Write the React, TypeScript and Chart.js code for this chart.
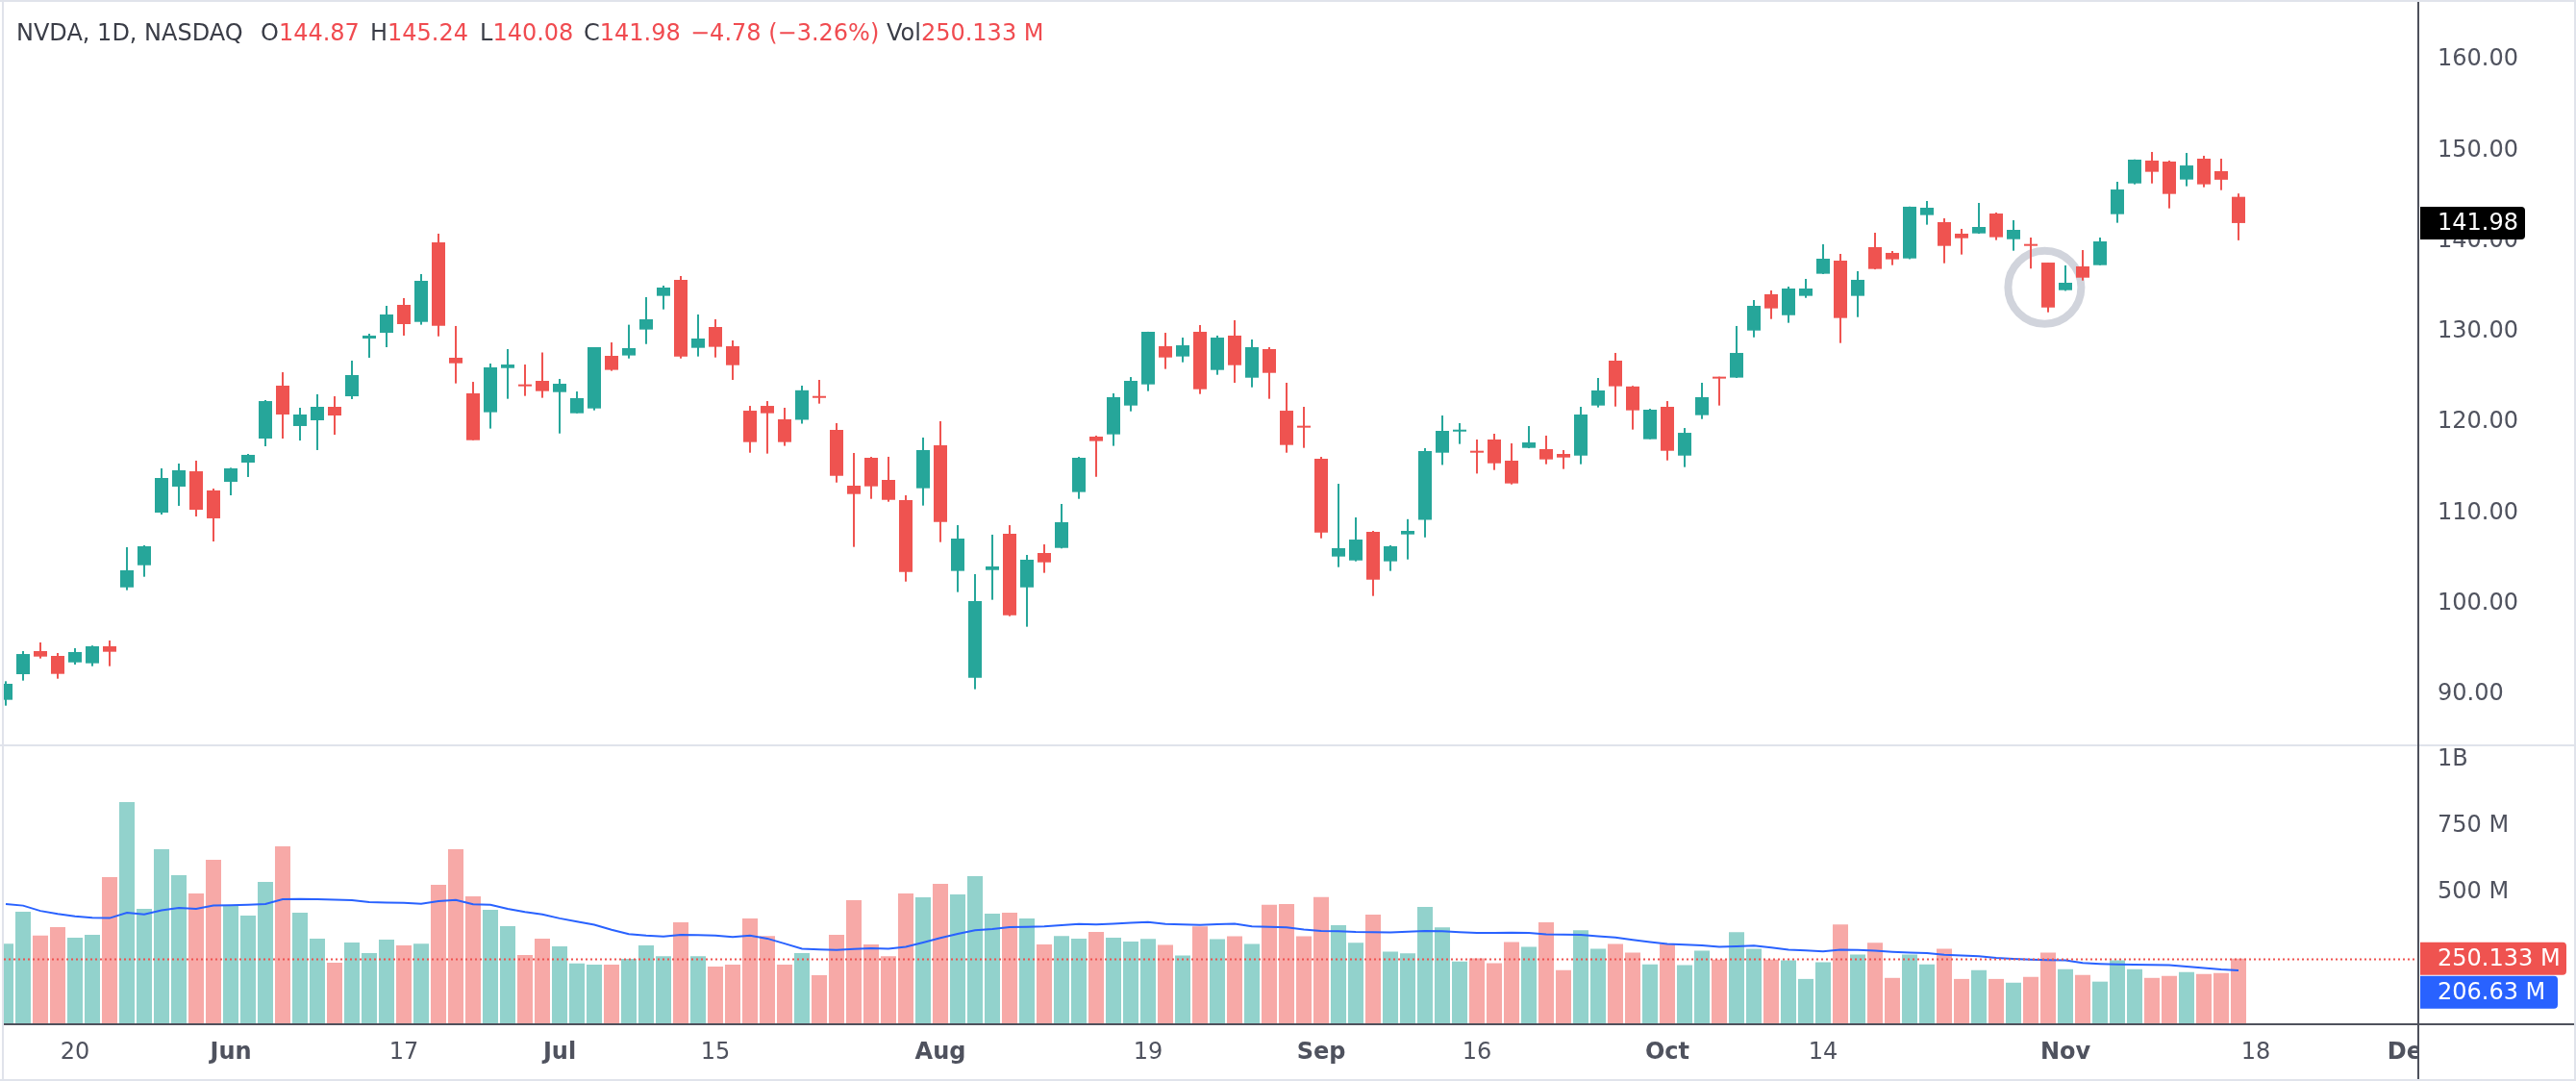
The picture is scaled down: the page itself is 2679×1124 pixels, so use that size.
import React, { useEffect, useRef } from "react";
import { Chart, registerables } from "chart.js";

Chart.register(...registerables);

const WIDTH = 2679;
const HEIGHT = 1124;

// ---- data ----
const dates = [
  "05-14","05-15","05-16","05-17","05-20","05-21","05-22","05-23","05-24","05-28",
  "05-29","05-30","05-31","06-03","06-04","06-05","06-06","06-07","06-10","06-11",
  "06-12","06-13","06-14","06-17","06-18","06-20","06-21","06-24","06-25","06-26",
  "06-27","06-28","07-01","07-02","07-03","07-05","07-08","07-09","07-10","07-11",
  "07-12","07-15","07-16","07-17","07-18","07-19","07-22","07-23","07-24","07-25",
  "07-26","07-29","07-30","07-31","08-01","08-02","08-05","08-06","08-07","08-08",
  "08-09","08-12","08-13","08-14","08-15","08-16","08-19","08-20","08-21","08-22",
  "08-23","08-26","08-27","08-28","08-29","08-30","09-03","09-04","09-05","09-06",
  "09-09","09-10","09-11","09-12","09-13","09-16","09-17","09-18","09-19","09-20",
  "09-23","09-24","09-25","09-26","09-27","09-30","10-01","10-02","10-03","10-04",
  "10-07","10-08","10-09","10-10","10-11","10-14","10-15","10-16","10-17","10-18",
  "10-21","10-22","10-23","10-24","10-25","10-28","10-29","10-30","10-31","11-01",
  "11-04","11-05","11-06","11-07","11-08","11-11","11-12","11-13","11-14","11-15",
];

const opens = [
  89.41, 92.24, 94.78, 94.25, 93.54, 93.44, 95.31, 101.81, 104.25, 110.05,
  112.92, 114.61, 112.50, 113.45, 115.57, 118.22, 124.05, 119.60, 120.23, 121.72,
  122.88, 129.25, 129.88, 132.96, 131.08, 139.85, 127.13, 123.20, 121.12, 125.99,
  124.16, 124.58, 123.34, 121.01, 121.54, 127.34, 127.38, 130.24, 133.95, 135.72,
  128.22, 130.52, 128.40, 121.29, 121.82, 120.34, 120.29, 122.88, 119.17, 113.02,
  116.10, 113.66, 111.43, 112.74, 117.48, 103.62, 91.85, 103.72, 107.72, 101.81,
  105.60, 106.16, 112.32, 118.43, 118.68, 121.86, 124.19, 128.40, 127.27, 129.99,
  125.78, 129.57, 124.93, 128.08, 121.29, 119.60, 115.99, 105.21, 104.78, 107.93,
  104.68, 107.65, 109.25, 116.66, 118.99, 116.84, 118.11, 115.78, 117.19, 117.05,
  116.52, 116.34, 121.86, 126.81, 123.96, 118.15, 121.72, 116.34, 120.80, 125.01,
  124.94, 130.13, 134.13, 131.82, 133.95, 136.39, 137.84, 133.95, 139.32, 138.69,
  138.08, 142.86, 142.08, 140.81, 140.84, 143.03, 140.20, 139.64, 137.62, 134.58,
  137.20, 137.34, 142.96, 146.35, 148.87, 148.76, 146.78, 149.08, 147.70, 144.87,
];

const highs = [
  91.46, 94.78, 95.74, 94.57, 95.10, 95.40, 95.95, 106.24, 106.45, 114.93,
  115.46, 115.78, 112.70, 115.00, 116.52, 122.46, 125.53, 121.61, 123.10, 122.88,
  126.81, 129.78, 132.85, 133.70, 136.35, 140.81, 130.63, 124.47, 126.49, 128.08,
  126.38, 127.71, 124.79, 123.41, 128.29, 128.82, 130.77, 133.81, 135.08, 136.14,
  131.90, 131.37, 129.04, 121.82, 122.35, 121.61, 124.05, 124.69, 119.92, 116.63,
  116.20, 116.21, 111.96, 118.33, 120.13, 108.67, 103.27, 107.62, 108.67, 105.39,
  106.55, 111.01, 116.20, 118.54, 123.20, 125.00, 130.00, 129.88, 129.35, 130.73,
  129.57, 131.26, 129.14, 128.29, 124.37, 121.72, 116.20, 113.23, 109.52, 108.04,
  106.45, 109.33, 117.16, 120.76, 119.92, 118.11, 118.75, 117.69, 119.60, 118.54,
  116.95, 121.72, 124.90, 127.66, 124.03, 121.50, 122.35, 119.38, 124.37, 125.04,
  130.63, 133.49, 134.55, 134.97, 135.82, 139.64, 138.58, 136.67, 140.91, 138.90,
  143.80, 144.41, 142.50, 141.34, 144.20, 143.14, 142.29, 140.38, 137.62, 137.31,
  139.00, 140.38, 146.53, 149.00, 149.82, 148.87, 149.71, 149.40, 149.08, 145.24,
];

const lows = [
  88.77, 91.53, 93.97, 91.74, 93.30, 93.12, 93.12, 101.50, 102.98, 109.84,
  110.80, 109.63, 106.87, 111.96, 113.98, 117.37, 118.22, 118.00, 116.95, 118.64,
  122.57, 127.13, 128.29, 129.57, 130.77, 129.49, 124.30, 118.04, 119.32, 122.60,
  122.92, 122.71, 118.78, 121.00, 121.33, 125.68, 127.05, 128.64, 132.46, 127.05,
  127.27, 127.16, 124.69, 116.66, 116.56, 117.41, 119.86, 122.07, 113.37, 106.27,
  111.57, 111.25, 102.45, 110.83, 106.80, 101.29, 90.58, 100.44, 98.63, 97.47,
  103.41, 106.10, 111.57, 114.00, 117.41, 121.22, 123.45, 125.89, 126.63, 123.13,
  125.25, 124.37, 123.87, 122.60, 116.66, 117.19, 107.22, 104.04, 104.68, 100.86,
  103.62, 104.89, 107.32, 115.31, 117.62, 114.36, 114.75, 113.16, 117.15, 115.39,
  114.86, 115.39, 121.65, 121.75, 119.21, 118.15, 115.81, 115.07, 120.37, 121.86,
  124.90, 129.38, 131.40, 130.98, 133.73, 136.35, 128.75, 131.61, 136.87, 137.34,
  138.00, 141.80, 137.55, 138.51, 140.80, 140.10, 138.93, 136.96, 132.14, 134.50,
  135.64, 137.33, 142.01, 146.25, 146.35, 143.60, 146.04, 145.93, 145.61, 140.08,
];

const closes = [
  91.18, 94.46, 94.18, 92.27, 94.68, 95.31, 94.71, 103.69, 106.34, 113.87,
  114.72, 110.37, 109.42, 114.93, 116.42, 122.35, 120.87, 120.87, 121.72, 120.76,
  125.22, 129.57, 131.90, 130.84, 135.61, 130.66, 126.52, 118.04, 126.07, 126.38,
  123.98, 123.45, 124.26, 122.67, 128.29, 125.79, 128.19, 131.37, 134.87, 127.27,
  129.25, 128.33, 126.31, 117.83, 121.01, 117.83, 123.54, 122.70, 114.11, 112.10,
  112.95, 111.46, 103.51, 116.95, 109.03, 107.19, 100.30, 104.12, 98.74, 104.86,
  104.57, 108.99, 116.10, 117.94, 122.78, 124.58, 129.99, 127.16, 128.50, 123.66,
  129.35, 126.31, 128.29, 125.46, 117.51, 119.42, 107.86, 106.13, 107.08, 102.66,
  106.34, 108.04, 116.84, 119.07, 119.17, 116.66, 115.49, 113.27, 117.79, 115.92,
  116.13, 120.87, 123.52, 123.98, 121.33, 121.40, 116.87, 118.85, 122.78, 124.83,
  127.66, 132.85, 132.57, 134.76, 134.76, 138.05, 131.51, 135.72, 136.92, 137.98,
  143.78, 143.67, 139.46, 140.31, 141.55, 140.42, 141.23, 139.46, 132.67, 135.40,
  135.96, 139.96, 145.68, 148.97, 147.63, 145.19, 148.33, 146.25, 146.76, 141.98,
];

// volume in millions
const volumes = [
  307, 427, 337, 369, 329, 340, 557, 839, 438, 662,
  564, 496, 622, 449, 412, 539, 673, 423, 326, 235,
  311, 271, 322, 300, 307, 528, 662, 485, 434, 373,
  264, 326, 297, 232, 228, 228, 250, 300, 260, 387,
  260, 221, 228, 402, 336, 228, 271, 188, 340, 470,
  304, 260, 496, 481, 532, 492, 561, 420, 423, 402,
  304, 336, 326, 351, 329, 315, 325, 302, 262, 372,
  324, 335, 306, 453, 456, 335, 482, 376, 310, 416,
  277, 270, 445, 368, 240, 251, 233, 313, 295, 387,
  207, 357, 288, 306, 273, 229, 306, 226, 280, 247,
  350, 288, 247, 244, 174, 237, 379, 266, 310, 178,
  266, 229, 288, 174, 207, 174, 160, 182, 273, 211,
  189, 164, 244, 211, 178, 185, 200, 193, 196, 250.133,
];

// volume moving average in millions
const volumeMA = [
  456, 450, 430, 419, 410, 404, 403, 423, 417, 432,
  441, 438, 450, 451, 453, 456, 474, 475, 474, 472,
  470, 463, 461, 460, 457, 467, 471, 455, 453, 438,
  426, 417, 402, 390, 378, 359, 343, 337, 334, 340,
  339, 337, 332, 337, 326, 307, 288, 285, 283, 287,
  289, 288, 295, 311, 328, 344, 357, 362, 369, 370,
  372, 376, 381, 379, 382, 385, 388, 381, 379, 377,
  380, 382, 372, 370, 368, 360, 355, 354, 351, 350,
  349, 352, 355, 354, 350, 347, 347, 348, 347, 342,
  341, 340, 335, 330, 321, 313, 306, 303, 300, 295,
  297, 299, 292, 284, 281, 278, 284, 283, 280, 276,
  273, 271, 265, 262, 260, 253, 250, 247, 245, 244,
  234, 231, 229, 228, 227, 226, 221, 215, 210, 206.63,
];

const tickIndex = [4, 13, 23, 32, 41, 54, 66, 76, 85, 96, 105, 119, 130, 139];
const tickText = ["20", "Jun", "17", "Jul", "15", "Aug", "19", "Sep", "16", "Oct", "14", "Nov", "18", "Dec"];
const monthTicks = ["Jun", "Jul", "Aug", "Sep", "Oct", "Nov", "Dec"];
const priceTicks = [90, 100, 110, 120, 130, 140, 150, 160];
const volumeTicks = [500, 750, 1000];
const volumeTickText = ["500 M", "750 M", "1B"];

const HIGHLIGHT_INDEX = 117.8;
const HIGHLIGHT_PRICE = 134.9;

// ---- styles ----
const UP = "#26a69a";
const DOWN = "#ef5350";
const UP_VOL = "rgba(38,166,154,0.5)";
const DOWN_VOL = "rgba(239,83,80,0.5)";
const MA_COLOR = "#2962ff";
const FONT = "DejaVu Sans";
const AXIS_TEXT = "#4f525e";
const AXIS_LINE = "#4e515c";
const LIGHT_LINE = "#e0e3eb";
const LABEL_TEXT = "#3a3d47";
const VALUE_TEXT = "#f04b50";

const X_MIN = -0.1111;
const X_MAX = 139.3889;
const PRICE_MIN = 84.39;
const PRICE_MAX = 166.257;
const VOL_MIN = 7.24;
const VOL_MAX = 1052.8;

function drawTag(ctx: CanvasRenderingContext2D, x: number, yc: number, w: number, h: number, bg: string, text: string) {
  ctx.save();
  ctx.fillStyle = bg;
  ctx.beginPath();
  (ctx as any).roundRect(x, yc - h / 2, w, h, [0, 4, 4, 0]);
  ctx.fill();
  ctx.fillStyle = "#ffffff";
  ctx.font = `24px "${FONT}"`;
  ctx.textBaseline = "middle";
  ctx.textAlign = "left";
  ctx.fillText(text, x + 18, yc + 1);
  ctx.restore();
}

export default function App() {
  const canvasRef = useRef<HTMLCanvasElement | null>(null);

  const n = closes.length;
  const last = n - 1;
  const change = closes[last] - closes[last - 1];
  const pct = (change / closes[last - 1]) * 100;
  const fmtSigned = (v: number, d: number) => (v < 0 ? "\u2212" : "+") + Math.abs(v).toFixed(d);

  useEffect(() => {
    document.body.style.margin = "0";
    const canvas = canvasRef.current;
    if (!canvas) return;

    const isUp = closes.map((c, i) => c >= opens[i]);
    const candleColors = isUp.map((u) => (u ? UP : DOWN));
    const volColors = isUp.map((u) => (u ? UP_VOL : DOWN_VOL));
    const lastVol = volumes[last];
    const lastMA = volumeMA[last];
    const lastClose = closes[last];

    const overlay = {
      id: "overlay",
      beforeDatasetsDraw(chart: any) {
        const { ctx } = chart;
        const xs = chart.scales.x;
        const ys = chart.scales.y;
        ctx.save();
        ctx.beginPath();
        ctx.arc(xs.getPixelForValue(HIGHLIGHT_INDEX), ys.getPixelForValue(HIGHLIGHT_PRICE), 38, 0, Math.PI * 2);
        ctx.strokeStyle = "#d1d4dc";
        ctx.lineWidth = 8;
        ctx.stroke();
        ctx.restore();
      },
      afterDatasetsDraw(chart: any) {
        const { ctx, chartArea } = chart;
        const yv = chart.scales.yv;
        const py = Math.round(yv.getPixelForValue(lastVol)) + 0.5;
        ctx.save();
        ctx.setLineDash([2, 3]);
        ctx.strokeStyle = DOWN;
        ctx.lineWidth = 2;
        ctx.beginPath();
        ctx.moveTo(chartArea.left, py);
        ctx.lineTo(chartArea.right, py);
        ctx.stroke();
        ctx.restore();
      },
      afterDraw(chart: any) {
        const { ctx, chartArea } = chart;
        const right = chartArea.right;
        const bottom = chartArea.bottom;
        const ys = chart.scales.y;
        const yv = chart.scales.yv;
        ctx.save();
        // cover x labels past the price axis
        ctx.fillStyle = "#ffffff";
        ctx.fillRect(right + 1, bottom + 1, WIDTH - right, HEIGHT - bottom);
        // pane separator
        ctx.fillStyle = LIGHT_LINE;
        ctx.fillRect(0, yv.top - 1, WIDTH, 2);
        // outer border
        ctx.fillRect(0, 0, WIDTH, 2);
        ctx.fillRect(2, 0, 2, HEIGHT);
        ctx.fillRect(WIDTH - 2, 0, 2, HEIGHT);
        ctx.fillRect(0, HEIGHT - 2, WIDTH, 2);
        // axis lines
        ctx.fillStyle = AXIS_LINE;
        ctx.fillRect(right - 1, 2, 2, HEIGHT - 4);
        ctx.fillRect(4, bottom, WIDTH - 6, 2);
        ctx.restore();

        // tags
        const pc = ys.getPixelForValue(lastClose);
        drawTag(ctx, right + 2, pc, 109, 34, "#000000", lastClose.toFixed(2));
        const rc = yv.getPixelForValue(lastVol);
        drawTag(ctx, right + 2, rc, 152, 34, DOWN, `${lastVol.toFixed(3)} M`);
        const bc = Math.max(yv.getPixelForValue(lastMA), rc + 35);
        drawTag(ctx, right + 2, bc, 143, 34, MA_COLOR, `${lastMA.toFixed(2)} M`);
      },
    };

    const chart = new Chart(canvas, {
      type: "bar",
      data: {
        labels: dates,
        datasets: [
          {
            type: "line",
            label: "Volume MA",
            data: volumeMA.map((v, i) => ({ x: i, y: v })),
            yAxisID: "yv",
            borderColor: MA_COLOR,
            borderWidth: 2,
            pointRadius: 0,
            tension: 0,
            order: 0,
          } as any,
          {
            type: "bar",
            label: "Bodies",
            data: opens.map((o, i) => ({ x: i, y: [o, closes[i]] })),
            yAxisID: "y",
            backgroundColor: candleColors,
            barThickness: 14,
            minBarLength: 2,
            grouped: false,
            inflateAmount: 0,
            order: 1,
          } as any,
          {
            type: "bar",
            label: "Wicks",
            data: lows.map((l, i) => ({ x: i, y: [l, highs[i]] })),
            yAxisID: "y",
            backgroundColor: candleColors,
            barThickness: 2,
            grouped: false,
            inflateAmount: 0,
            order: 2,
          } as any,
          {
            type: "bar",
            label: "Volume",
            data: volumes.map((v, i) => ({ x: i, y: v })),
            yAxisID: "yv",
            backgroundColor: volColors,
            barThickness: 16,
            grouped: false,
            inflateAmount: 0,
            order: 3,
          } as any,
        ],
      },
      options: {
        animation: false,
        responsive: false,
        devicePixelRatio: 1,
        events: [],
        layout: { padding: { top: 3, left: 4, right: 0, bottom: 0 } },
        plugins: { legend: { display: false }, tooltip: { enabled: false } },
        scales: {
          x: {
            type: "linear",
            position: "bottom",
            min: X_MIN,
            max: X_MAX,
            offset: false,
            grid: { display: false, drawTicks: false, offset: false },
            border: { display: false },
            afterBuildTicks: (s: any) => {
              s.ticks = tickIndex.map((v) => ({ value: v }));
            },
            afterFit: (s: any) => {
              s.height = 60;
              s.paddingLeft = 0;
              s.paddingRight = 0;
            },
            ticks: {
              autoSkip: false,
              maxRotation: 0,
              padding: 16,
              color: AXIS_TEXT,
              font: (c: any) => {
                const v = c && c.tick ? Math.round(c.tick.value) : -1;
                const t = tickText[tickIndex.indexOf(v)];
                return { family: FONT, size: 24, weight: monthTicks.includes(t) ? "bold" : "normal" };
              },
              callback: (v: any) => {
                const k = tickIndex.indexOf(Math.round(Number(v)));
                return k >= 0 ? tickText[k] : "";
              },
            },
          },
          y: {
            type: "linear",
            position: "right",
            stack: "panes",
            stackWeight: 772,
            min: PRICE_MIN,
            max: PRICE_MAX,
            grid: { display: false, drawTicks: false },
            border: { display: false },
            afterBuildTicks: (s: any) => {
              s.ticks = priceTicks.map((v) => ({ value: v }));
            },
            afterFit: (s: any) => {
              s.width = 164;
              s.paddingTop = 0;
              s.paddingBottom = 0;
            },
            ticks: {
              autoSkip: false,
              padding: 20,
              color: AXIS_TEXT,
              font: { family: FONT, size: 24 },
              callback: (v: any) => Number(v).toFixed(2),
            },
          },
          yv: {
            type: "linear",
            axis: "y",
            position: "right",
            stack: "panes",
            stackWeight: 289,
            min: VOL_MIN,
            max: VOL_MAX,
            grid: { display: false, drawTicks: false },
            border: { display: false },
            afterBuildTicks: (s: any) => {
              s.ticks = volumeTicks.map((v) => ({ value: v }));
            },
            afterFit: (s: any) => {
              s.width = 164;
              s.paddingTop = 0;
              s.paddingBottom = 0;
            },
            ticks: {
              autoSkip: false,
              padding: 20,
              color: AXIS_TEXT,
              font: { family: FONT, size: 24 },
              callback: (v: any) => {
                const k = volumeTicks.indexOf(Number(v));
                return k >= 0 ? volumeTickText[k] : "";
              },
            },
          } as any,
        },
      } as any,
      plugins: [overlay],
    });

    return () => {
      chart.destroy();
    };
  }, []);

  const headerBase: React.CSSProperties = {
    position: "absolute",
    top: 22,
    fontFamily: `"${FONT}"`,
    fontSize: 24,
    lineHeight: "24px",
    whiteSpace: "nowrap",
    color: LABEL_TEXT,
  };

  const groups = [
    { left: 17, label: "NVDA, 1D, NASDAQ", value: "" },
    { left: 271, label: "O", value: opens[last].toFixed(2) },
    { left: 385, label: "H", value: highs[last].toFixed(2) },
    { left: 499, label: "L", value: lows[last].toFixed(2) },
    { left: 607, label: "C", value: closes[last].toFixed(2) },
    { left: 718, label: "", value: `${fmtSigned(change, 2)} (${fmtSigned(pct, 2)}%)` },
    { left: 922, label: "Vol", value: `${volumes[last].toFixed(3)} M` },
  ];

  return (
    <div style={{ position: "relative", width: WIDTH, height: HEIGHT, background: "#ffffff", overflow: "hidden" }}>
      <canvas
        ref={canvasRef}
        width={WIDTH}
        height={HEIGHT}
        style={{ position: "absolute", left: 0, top: 0, width: WIDTH, height: HEIGHT }}
      />
      {groups.map((g, i) => (
        <div key={i} style={{ ...headerBase, left: g.left }}>
          {g.label}
          {g.value ? <span style={{ color: VALUE_TEXT }}>{g.value}</span> : null}
        </div>
      ))}
    </div>
  );
}
